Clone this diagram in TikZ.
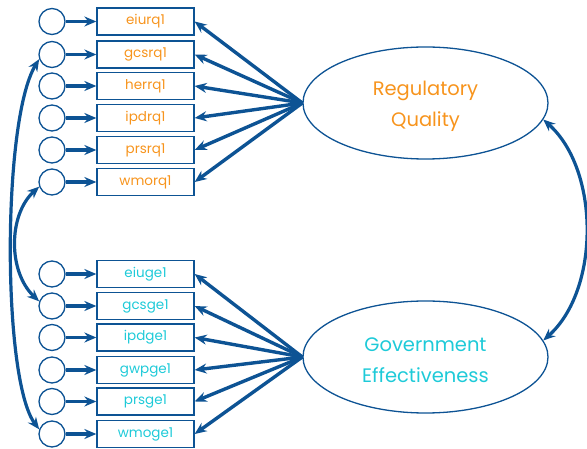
\documentclass[tikz,border=0pt]{standalone}
\usepackage{fontspec}
\setmainfont{Poppins}
\usetikzlibrary{arrows.meta,shapes.geometric}
\definecolor{navy}{HTML}{0D5394}
\definecolor{rqorange}{HTML}{F7941D}
\definecolor{gecyan}{HTML}{1ECAD8}

\begin{document}
\begin{tikzpicture}[x=1pt,y=-1pt,
  errc/.style={circle,draw=navy,line width=1.3pt,minimum size=26pt,inner sep=0pt},
  ind/.style={draw=navy,line width=1.3pt,minimum width=97pt,minimum height=27pt,
    inner sep=0pt,font=\fontsize{13.5}{13.5}\selectfont},
  lat/.style={ellipse,draw=navy,line width=1.3pt,minimum width=245pt,minimum height=112pt,
    inner sep=0pt,align=center,font=\fontsize{19.5}{31}\selectfont},
  tip/.tip={Stealth[length=12pt,width=10pt,inset=4pt]},
  load/.style={draw=navy,line width=3.4pt,-tip},
  errarr/.style={draw=navy,line width=3.6pt,-tip},
  cov/.style={draw=navy,line width=3.2pt,tip-tip}]

\useasboundingbox (0,0) rectangle (587,449);

% latent factors
\node[lat,text=rqorange] (RQ) at (425.5,103) {};
\node[text=rqorange,align=center,font=\fontsize{19.5}{31}\selectfont] at (425.5,106) {Regulatory\\Quality};
\node[lat,text=gecyan]   (GE) at (425.5,357) {};
\node[text=gecyan,align=center,font=\fontsize{19.5}{31}\selectfont] at (425.5,360) {Government\\Effectiveness};

% regulatory quality indicators
\foreach \i/\y/\lab in {1/21.5/eiurq1, 2/54.5/gcsrq1, 3/86/herrq1, 4/118/ipdrq1, 5/150/prsrq1, 6/182/wmorq1}{
  \node[errc] (c\i) at (52,\y) {};
  \node[ind,text=rqorange] (b\i) at (145.5,\y) {\lab};
  \draw[errarr] (c\i) -- (b\i);
  \draw[load] (RQ.west) -- (b\i.east);
}

% government effectiveness indicators
\foreach \i/\y/\lab in {7/274/eiuge1, 8/306/gcsge1, 9/337.5/ipdge1, 10/370/gwpge1, 11/401.5/prsge1, 12/434/wmoge1}{
  \node[errc] (c\i) at (52,\y) {};
  \node[ind,text=gecyan] (b\i) at (145.5,\y) {\lab};
  \draw[errarr] (c\i) -- (b\i);
  \draw[load] (GE.west) -- (b\i.east);
}

% factor covariance
\draw[cov] (RQ.-8) .. controls (600,170) and (600,290) .. (GE.8);

% error covariances
\draw[cov] (c2.200) .. controls (2,120) and (2,380) .. (c12.160);
\draw[cov] (c6.200) .. controls (8,215) and (8,272) .. (c8.160);

\end{tikzpicture}
\end{document}
